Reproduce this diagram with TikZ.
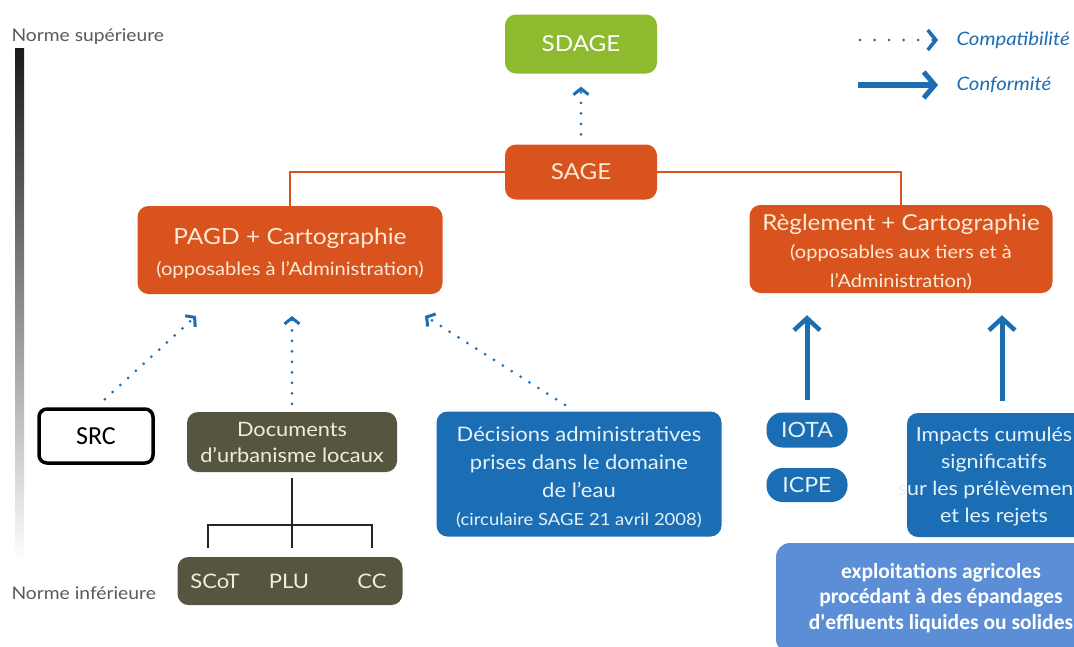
\documentclass[tikz,border=0pt]{standalone}
\usepackage{fontspec}
\setmainfont{Lato}[FakeStretch=1.1]
\newfontfamily\calibri{Carlito}
\usetikzlibrary{arrows.meta,calc}
\definecolor{sorange}{HTML}{D9531E}
\definecolor{sgreen}{HTML}{8DBA2E}
\definecolor{sblue}{HTML}{1B6DB4}
\definecolor{lblue}{HTML}{5B8ED6}
\definecolor{solive}{HTML}{56553F}
\definecolor{cream}{HTML}{FCE9D6}
\definecolor{pale}{HTML}{E6F2FA}
\definecolor{paleolive}{HTML}{EEEEDC}
\definecolor{normgray}{HTML}{5A5A5A}
\newcommand{\fsz}[2]{\fontsize{#1}{#2}\selectfont}
\tikzset{
  box/.style={rounded corners=11pt, inner sep=0pt, align=center},
  obox/.style={box, fill=sorange, text=cream},
  bbox/.style={box, fill=sblue, text=pale},
  olbox/.style={box, fill=solive, text=paleolive},
  orline/.style={draw=sorange, line width=2pt},
  compat/.style={draw=sblue, line width=3pt, line cap=round, dash pattern=on 0pt off 10.5pt,
    -{Straight Barb[length=6pt, width=15pt, line width=3pt]}},
  conform/.style={draw=sblue, line width=5pt,
    -{Straight Barb[length=12pt, width=26pt, line width=4.5pt]}},
  tree/.style={draw=black!85, line width=2.5pt},
  norme/.style={text=normgray, font=\fsz{17.5}{20}, anchor=west},
  legend/.style={text=sblue, font=\itshape\fsz{18.5}{22}, anchor=west}
}
\begin{document}
\begin{tikzpicture}[x=1pt,y=-1pt]
\useasboundingbox (0,0) rectangle (1074,646);
\clip (0,0) rectangle (1074,646);
\fill[white] (0,0) rectangle (1074,646);

% gradient scale
\shade[top color=black!90, bottom color=white] (15,48) rectangle (24,562);
\node[norme] (nsup) at (8,37) {Norme supérieure};
\node[norme] (ninf) at (8,593) {Norme inférieure};

% legend
\coordinate (la1) at (860,40); \coordinate (lb1) at (938,40);
\coordinate (la2) at (858,85); \coordinate (lb2) at (938,85);
\draw[compat, dash pattern=on 0pt off 14.5pt,
  -{Straight Barb[length=8pt, width=20pt, line width=3.5pt]}] (la1) -- (lb1);
\draw[conform, line width=6pt,
  -{Straight Barb[length=11pt, width=26pt, line width=5pt]}] (la2) -- (lb2);
\node[legend] (lcompat) at (953,40) {Compatibilité};
\node[legend] (lconf) at (953,85) {Conformité};

% top nodes
\node[box, fill=sgreen, text=white, minimum width=152pt, minimum height=59pt,
  font=\fsz{22}{26}] (sdage) at (581,44) {SDAGE};
\node[obox, minimum width=152pt, minimum height=55pt,
  font=\fsz{22}{26}] (sage) at (581,172) {SAGE};

\node[obox, minimum width=305pt, minimum height=88pt] (pagd) at (290,250) {};
\node[text=cream, align=center, inner sep=0pt, font=\fsz{18.3}{31}] (pagdtext) at (290,253)
  {{\fsz{22.3}{31}PAGD + Cartographie}\\
   (opposables à l'Administration)};
\node[obox, minimum width=303pt, minimum height=88pt] (regl) at (901,249) {};
\node[text=cream, align=center, inner sep=0pt, font=\fsz{18.2}{28.5}] (regltext) at (901,252)
  {{\fsz{22}{28.5}Règlement + Cartographie}\\
   (opposables aux tiers et à\\
   l'Administration)};

\draw[orline] (sage.west) -| (pagd.north);
\draw[orline] (sage.east) -| (regl.north);
\draw[compat, shorten <=10pt, shorten >=13pt] (sage.north) -- (sdage.south);

% lower nodes
\node[box, draw=black, line width=3.5pt, fill=white, rounded corners=8pt,
  minimum width=114pt, minimum height=54pt,
  font=\calibri\fsz{26}{30}] (src) at (96,436) {SRC};

\node[olbox, minimum width=210pt, minimum height=60pt,
  font=\fsz{19.8}{26}] (docs) at (292,442)
  {Documents\\d'urbanisme locaux};

\node[olbox, minimum width=225pt, minimum height=48pt] (scotbox) at (290,581) {};
\node[text=paleolive, font=\fsz{20}{24}] (scot) at (215,581) {SCoT};
\node[text=paleolive, font=\fsz{20}{24}] (plu) at (289,581) {PLU};
\node[text=paleolive, font=\fsz{20}{24}] (cc) at (372,581) {CC};

\coordinate (j) at (292,525);
\draw[tree] ([yshift=-6pt]docs.south) -- (j);
\draw[tree] ([yshift=9pt]scotbox.north -| 208,0) |- (j) -| ([yshift=9pt]scotbox.north -| cc);
\draw[tree] (j) -- ([yshift=9pt]scotbox.north -| j);

\node[bbox, minimum width=285pt, minimum height=125pt] (dec) at (579,474) {};
\node[text=pale, align=center, inner sep=0pt, font=\fsz{20}{28}] (dectext) at (579,477)
  {Décisions administratives\\
   prises dans le domaine\\
   de l'eau\\
   {\fsz{16.8}{28}(circulaire SAGE 21 avril 2008)}};

\node[bbox, rounded corners=16pt, minimum width=81pt, minimum height=35pt,
  font=\fsz{21}{24}] (iota) at (807,430) {IOTA};
\node[bbox, rounded corners=16pt, minimum width=81pt, minimum height=34pt,
  font=\fsz{21}{24}] (icpe) at (807,485) {ICPE};

\node[bbox, minimum width=190pt, minimum height=124pt] (imp) at (1002,475) {};
\node[text=pale, align=center, inner sep=0pt, font=\fsz{19.5}{27}] (imptext) at (994,477)
  {Impacts cumulés\\significatifs\\sur les prélèvements\\et les rejets};

\node[box, fill=lblue, text=white, rounded corners=14pt, minimum width=330pt, minimum height=110pt,
  font=\calibri\bfseries\fsz{21.5}{25.5}] (expl) at (941,598)
  {exploitations agricoles\\procédant à des épandages\\d'effluents liquides ou solides};

% connectors into PAGD
\coordinate (t1) at (196,316);
\coordinate (t2) at (292,316);
\coordinate (t3) at (425,316);
\draw[compat, shorten <=12pt] (src.north) -- (t1);
\draw[compat, shorten <=8pt] (docs.north) -- (t2);
\draw[compat, shorten <=12pt] ([xshift=-4pt]dec.north) -- (t3);

% conformity arrows
\draw[conform, shorten <=12pt, shorten >=22pt] (iota.north) -- (iota.north |- regl.south);
\draw[conform, shorten <=12pt, shorten >=22pt] (imp.north) -- (imp.north |- regl.south);
\end{tikzpicture}
\end{document}
